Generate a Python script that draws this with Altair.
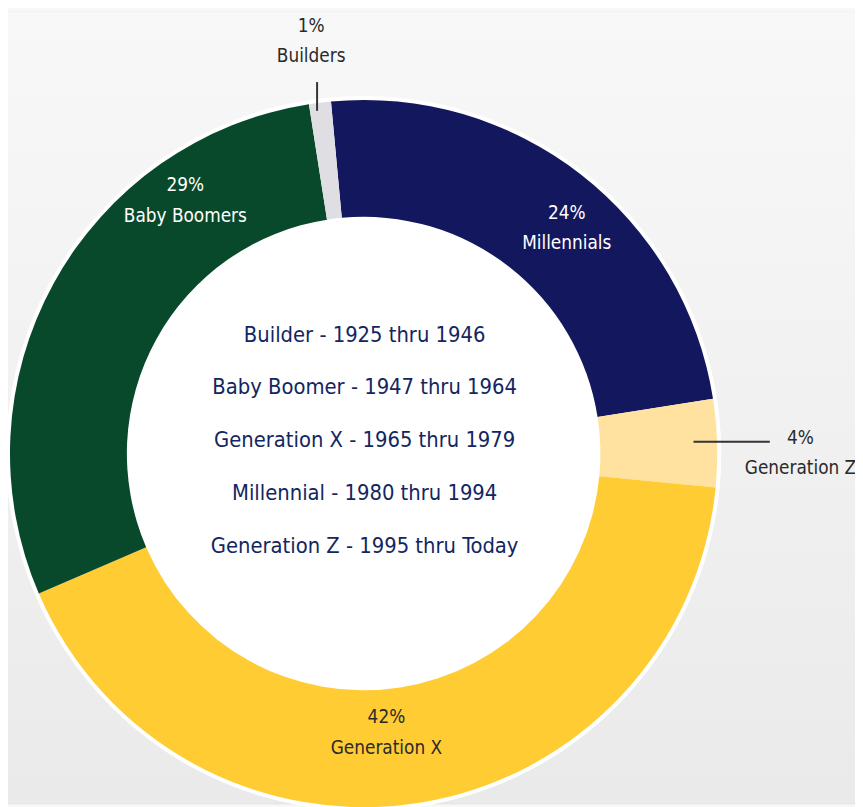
import math
import altair as alt
import pandas as pd

# ---- data ----
generations = ["Millennials", "Generation Z", "Generation X", "Baby Boomers", "Builders"]
shares = [24, 4, 42, 29, 1]
share_labels = ["24%", "4%", "42%", "29%", "1%"]
colors = ["#13185E", "#FFE2A0", "#FFCC33", "#08492C", "#DFDFE3"]
year_ranges = [
    "Builder - 1925 thru 1946",
    "Baby Boomer - 1947 thru 1964",
    "Generation X - 1965 thru 1979",
    "Millennial - 1980 thru 1994",
    "Generation Z - 1995 thru Today",
]

# ---- layout ----
W, H = 855, 799
CX, CY = 359, 446
R_OUT, R_IN = 357, 239
START = math.radians(-5.3)
FONT = "'DejaVu Sans Condensed', 'Roboto Condensed', 'Liberation Sans Narrow', Roboto, sans-serif"

df = pd.DataFrame({"gen": generations, "share": shares, "order": list(range(len(generations)))})
one = pd.DataFrame({"a": [0]})

bg = alt.Chart(one).mark_rect(
    color=alt.Gradient(
        gradient="linear",
        stops=[alt.GradientStop(color="#F8F8F8", offset=0), alt.GradientStop(color="#EAEAEA", offset=1)],
        x1=0, x2=0, y1=0, y2=1,
    )
).encode(x=alt.value(0), x2=alt.value(W), y=alt.value(0), y2=alt.value(H))

ring = alt.Chart(one).mark_arc(
    outerRadius=R_OUT + 4, innerRadius=0, theta=0, theta2=2 * math.pi, color="white"
).encode(x=alt.value(CX), y=alt.value(CY))

arcs = alt.Chart(df).mark_arc(outerRadius=R_OUT, innerRadius=R_IN).encode(
    theta=alt.Theta("share:Q", stack=True, scale=alt.Scale(domain=[0, 100], range=[START, START + 2 * math.pi])),
    order=alt.Order("order:Q"),
    color=alt.Color("gen:N", scale=alt.Scale(domain=generations, range=colors), legend=None),
    x=alt.value(CX),
    y=alt.value(CY),
)

center_df = pd.DataFrame({"t": year_ranges, "i": list(range(len(year_ranges)))})
center = alt.Chart(center_df).mark_text(
    font=FONT, fontSize=22, color="#132660", align="center", baseline="middle"
).encode(
    text="t:N",
    x=alt.value(CX + 1),
    y=alt.Y("i:Q", scale=alt.Scale(domain=[0, 4], range=[326, 539]), axis=None),
)

# label placement (layout, chart pixel coords of first line)
label_pos = {
    "Millennials": (564, 203, "white"),
    "Generation Z": (800, 430, "#2A2A2A"),
    "Generation X": (382, 712, "#2A2A2A"),
    "Baby Boomers": (179, 175, "white"),
    "Builders": (306, 14, "#2A2A2A"),
}

labels = []
for g, s in zip(generations, share_labels):
    lx, ly, c = label_pos[g]
    ldf = pd.DataFrame({"txt": [s + "\n" + g]})
    labels.append(
        alt.Chart(ldf).mark_text(
            font=FONT, fontSize=19, color=c, align="center", baseline="middle",
            lineBreak="\n", lineHeight=31
        ).encode(text="txt:N", x=alt.value(lx), y=alt.value(ly))
    )

lead1 = alt.Chart(one).mark_rule(color="#333333", strokeWidth=2).encode(
    x=alt.value(312), x2=alt.value(312), y=alt.value(71), y2=alt.value(100)
)
lead2 = alt.Chart(one).mark_rule(color="#333333", strokeWidth=2).encode(
    x=alt.value(692), x2=alt.value(769), y=alt.value(434), y2=alt.value(434)
)

chart = alt.layer(bg, ring, arcs, center, lead1, lead2, *labels).properties(
    width=W, height=H, padding=0, autosize=alt.AutoSizeParams(type="none")
).configure_view(stroke=None).configure(background="#F8F8F8")

chart.save("out.html", embed_options={"renderer": "svg", "actions": False})
